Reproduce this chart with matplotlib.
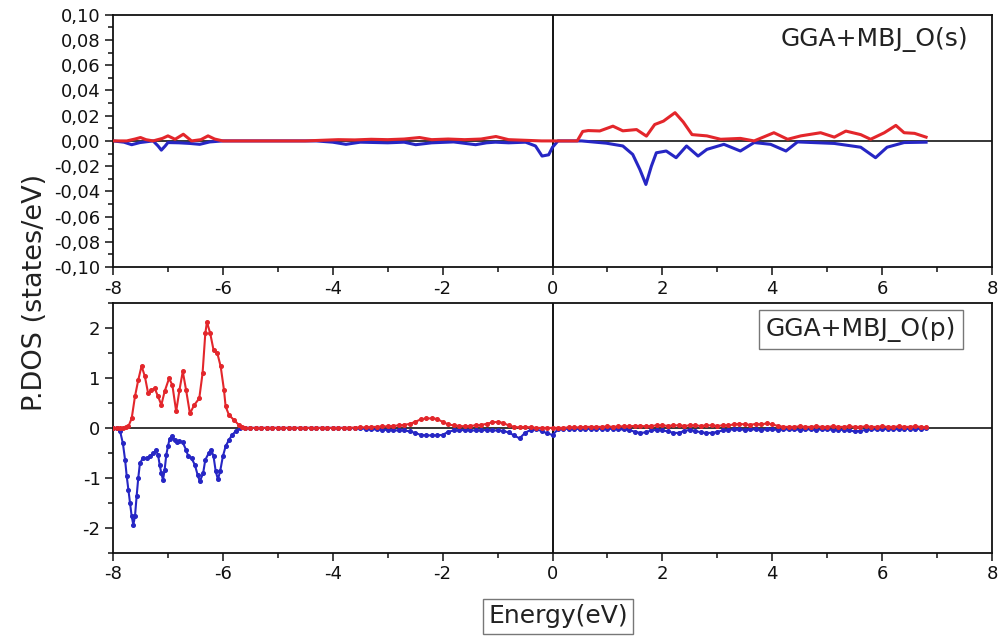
import matplotlib
matplotlib.use("Agg")
from matplotlib import pyplot as plt
from matplotlib.ticker import MultipleLocator, FuncFormatter

# O(s) partial DOS, spin up / spin down (states/eV)
E_s_up = [-8.0, -7.75, -7.6, -7.5, -7.4, -7.27, -7.1, -7.0, -6.87, -6.72,
          -6.57, -6.4, -6.27, -6.15, -6.0, -5.5, -5.0, -4.5, -4.2, -3.9,
          -3.6, -3.3, -3.0, -2.7, -2.42, -2.2, -1.9, -1.6, -1.3, -1.03,
          -0.8, -0.5, -0.2, 0.0, 0.25, 0.45, 0.55, 0.65, 0.86, 1.1,
          1.28, 1.53, 1.71, 1.86, 2.02, 2.23, 2.38, 2.54, 2.81, 3.06,
          3.42, 3.67, 4.03, 4.28, 4.52, 4.88, 5.13, 5.34, 5.61, 5.79,
          6.04, 6.25, 6.4, 6.59, 6.8]
s_up = [0.0, 0.0, 0.0015, 0.0027, 0.001, 0.0, 0.002, 0.004, 0.0013, 0.0053,
        0.0, 0.001, 0.004, 0.0015, 0.0, 0.0, 0.0, 0.0, 0.0005, 0.001,
        0.0008, 0.0013, 0.001, 0.0015, 0.0027, 0.001, 0.0015, 0.001, 0.0015, 0.0035,
        0.001, 0.0005, 0.0, 0.0, 0.0, 0.0, 0.0075, 0.0082, 0.0079, 0.0117,
        0.008, 0.009, 0.0038, 0.013, 0.0157, 0.0224, 0.015, 0.005, 0.004, 0.0013,
        0.002, 0.0, 0.0065, 0.0013, 0.004, 0.0065, 0.003, 0.0078, 0.005, 0.0013,
        0.0065, 0.0123, 0.0065, 0.006, 0.003]

E_s_dn = [-8.0, -7.8, -7.66, -7.51, -7.27, -7.18, -7.12, -7.05, -7.0, -6.8,
          -6.6, -6.42, -6.24, -6.0, -5.0, -4.3, -4.0, -3.76, -3.5, -3.0,
          -2.7, -2.49, -2.2, -1.8, -1.4, -1.2, -1.04, -0.8, -0.49, -0.31,
          -0.19, -0.07, 0.0, 0.1, 0.53, 0.98, 1.28, 1.46, 1.59, 1.70,
          1.80, 1.89, 2.07, 2.25, 2.44, 2.65, 2.81, 3.12, 3.42, 3.67,
          3.97, 4.25, 4.46, 5.13, 5.61, 5.88, 6.09, 6.4, 6.8]
s_dn = [0.0, -0.001, -0.003, -0.0013, 0.0, -0.004, -0.0073, -0.004, -0.0013, -0.0015,
        -0.002, -0.0027, -0.0008, 0.0, 0.0, 0.0, -0.001, -0.0027, -0.001, -0.0015,
        -0.001, -0.003, -0.0015, -0.0008, -0.003, -0.0015, -0.001, -0.0015, -0.001, -0.004,
        -0.012, -0.011, -0.005, 0.0, 0.0, -0.0018, -0.004, -0.0107, -0.0226, -0.0345,
        -0.02, -0.0094, -0.008, -0.0133, -0.004, -0.012, -0.0067, -0.0027, -0.008, -0.0013,
        -0.0027, -0.008, -0.0008, -0.002, -0.005, -0.0133, -0.005, -0.0013, -0.001]

# O(p) partial DOS: finely sampled O-2p band below -5.6 eV ...
E_p_up_head = [-8.0, -7.93, -7.87, -7.81, -7.76, -7.72, -7.66, -7.60, -7.54, -7.48,
               -7.42, -7.36, -7.30, -7.24, -7.18, -7.12, -7.06, -6.98, -6.92, -6.85,
               -6.79, -6.73, -6.67, -6.60, -6.52, -6.43, -6.37, -6.32, -6.29, -6.23,
               -6.17, -6.10, -6.04, -5.98, -5.95, -5.89, -5.80, -5.71, -5.65]
p_up_head = [0.0, 0.0, 0.0, 0.0, 0.01, 0.03, 0.19, 0.63, 0.96, 1.24,
             1.03, 0.69, 0.76, 0.79, 0.63, 0.46, 0.73, 0.99, 0.86, 0.33,
             0.76, 1.13, 0.76, 0.29, 0.46, 0.59, 1.09, 1.89, 2.12, 1.89,
             1.56, 1.49, 1.23, 0.76, 0.43, 0.26, 0.16, 0.06, 0.02]

E_p_dn_head = [-8.0, -7.93, -7.87, -7.82, -7.78, -7.75, -7.72, -7.69, -7.66, -7.63,
               -7.60, -7.57, -7.54, -7.51, -7.46, -7.39, -7.33, -7.27, -7.22, -7.18,
               -7.15, -7.12, -7.09, -7.06, -7.03, -7.0, -6.97, -6.92, -6.88, -6.84,
               -6.79, -6.73, -6.67, -6.63, -6.57, -6.51, -6.46, -6.42, -6.36, -6.32,
               -6.26, -6.21, -6.17, -6.13, -6.09, -6.05, -6.0, -5.95, -5.89, -5.83,
               -5.77, -5.68]
p_dn_head = [0.0, -0.01, -0.07, -0.31, -0.64, -0.97, -1.24, -1.51, -1.77, -1.94,
             -1.77, -1.37, -1.0, -0.71, -0.61, -0.61, -0.57, -0.51, -0.45, -0.54,
             -0.74, -0.91, -1.04, -0.84, -0.54, -0.37, -0.22, -0.17, -0.24, -0.29,
             -0.26, -0.29, -0.44, -0.57, -0.61, -0.74, -0.94, -1.07, -0.91, -0.64,
             -0.51, -0.44, -0.57, -0.87, -1.03, -0.87, -0.57, -0.37, -0.24, -0.14,
             -0.07, -0.01]

# ... and the rest of the window on a 0.1 eV grid
E_tail = [-5.6, -5.5, -5.4, -5.3, -5.2, -5.1, -5.0, -4.9, -4.8, -4.7,
          -4.6, -4.5, -4.4, -4.3, -4.2, -4.1, -4.0, -3.9, -3.8, -3.7,
          -3.6, -3.5, -3.4, -3.3, -3.2, -3.1, -3.0, -2.9, -2.8, -2.7,
          -2.6, -2.5, -2.4, -2.3, -2.2, -2.1, -2.0, -1.9, -1.8, -1.7,
          -1.6, -1.5, -1.4, -1.3, -1.2, -1.1, -1.0, -0.9, -0.8, -0.7,
          -0.6, -0.5, -0.4, -0.3, -0.2, -0.1, 0.0, 0.1, 0.2, 0.3,
          0.4, 0.5, 0.6, 0.7, 0.8, 0.9, 1.0, 1.1, 1.2, 1.3,
          1.4, 1.5, 1.6, 1.7, 1.8, 1.9, 2.0, 2.1, 2.2, 2.3,
          2.4, 2.5, 2.6, 2.7, 2.8, 2.9, 3.0, 3.1, 3.2, 3.3,
          3.4, 3.5, 3.6, 3.7, 3.8, 3.9, 4.0, 4.1, 4.2, 4.3,
          4.4, 4.5, 4.6, 4.7, 4.8, 4.9, 5.0, 5.1, 5.2, 5.3,
          5.4, 5.5, 5.6, 5.7, 5.8, 5.9, 6.0, 6.1, 6.2, 6.3,
          6.4, 6.5, 6.6, 6.7, 6.8]
p_up_tail = [0, 0, 0, 0, 0, 0, 0, 0, 0, 0,
             0, 0, 0, 0, 0, 0, 0, 0, 0, 0.005,
             0.005, 0.01, 0.01, 0.02, 0.02, 0.03, 0.03, 0.04, 0.05, 0.06,
             0.08, 0.12, 0.17, 0.19, 0.19, 0.18, 0.12, 0.07, 0.05, 0.04,
             0.03, 0.04, 0.05, 0.06, 0.08, 0.11, 0.12, 0.10, 0.05, 0.02,
             0.01, 0.02, 0.01, 0.0, 0.0, 0.0, 0.0, 0.0, 0.0, 0.01,
             0.01, 0.01, 0.02, 0.02, 0.02, 0.02, 0.03, 0.02, 0.03, 0.03,
             0.03, 0.04, 0.04, 0.03, 0.04, 0.05, 0.05, 0.04, 0.05, 0.05,
             0.04, 0.05, 0.05, 0.04, 0.05, 0.05, 0.04, 0.05, 0.05, 0.07,
             0.08, 0.07, 0.06, 0.08, 0.07, 0.09, 0.07, 0.04, 0.02, 0.02,
             0.02, 0.03, 0.02, 0.02, 0.03, 0.02, 0.02, 0.03, 0.02, 0.02,
             0.03, 0.02, 0.02, 0.03, 0.02, 0.02, 0.03, 0.02, 0.02, 0.03,
             0.02, 0.02, 0.03, 0.02, 0.01]
p_dn_tail = [0, 0, 0, 0, 0, 0, 0, 0, 0, 0,
             0, 0, 0, 0, 0, 0, 0, 0, 0, -0.005,
             -0.005, -0.01, -0.02, -0.03, -0.03, -0.04, -0.04, -0.05, -0.05, -0.05,
             -0.07, -0.10, -0.14, -0.15, -0.15, -0.15, -0.14, -0.08, -0.05, -0.05,
             -0.04, -0.05, -0.05, -0.05, -0.04, -0.05, -0.05, -0.06, -0.09, -0.15,
             -0.21, -0.10, -0.04, -0.03, -0.06, -0.11, -0.14, -0.03, -0.02, -0.02,
             -0.02, -0.02, -0.02, -0.02, -0.02, -0.02, -0.02, -0.02, -0.03, -0.03,
             -0.04, -0.08, -0.10, -0.09, -0.05, -0.04, -0.05, -0.07, -0.10, -0.10,
             -0.06, -0.04, -0.06, -0.09, -0.10, -0.10, -0.08, -0.05, -0.04, -0.03,
             -0.03, -0.04, -0.03, -0.03, -0.04, -0.03, -0.03, -0.04, -0.03, -0.03,
             -0.03, -0.04, -0.03, -0.03, -0.04, -0.03, -0.03, -0.04, -0.04, -0.04,
             -0.05, -0.07, -0.06, -0.04, -0.03, -0.03, -0.03, -0.02, -0.02, -0.03,
             -0.02, -0.02, -0.02, -0.02, -0.01]

RED = '#e3262b'
BLUE = '#2626c4'

plt.rcParams['font.family'] = ['DejaVu Sans']
plt.rcParams['text.color'] = '#222222'
plt.rcParams['axes.unicode_minus'] = False


def style_axes(ax):
    ax.set_xlim(-8, 8)
    ax.xaxis.set_major_locator(MultipleLocator(2))
    ax.xaxis.set_minor_locator(MultipleLocator(1))
    ax.tick_params(which='both', direction='out', top=False, right=False,
                   labelsize=13, width=1.1, colors='#111111')
    ax.tick_params(which='major', length=6, pad=3)
    ax.tick_params(which='minor', length=3.5)
    for sp in ax.spines.values():
        sp.set_linewidth(1.3)
        sp.set_color('#111111')
    ax.axhline(0, color='black', lw=1.1, zorder=1)
    ax.axvline(0, color='black', lw=1.3, zorder=1)


fig = plt.figure(figsize=(10, 6.42), dpi=100)
ax1 = fig.add_axes([0.113, 0.584, 0.879, 0.393])
ax2 = fig.add_axes([0.113, 0.139, 0.879, 0.389])

# O(s) panel
style_axes(ax1)
ax1.plot(E_s_dn, s_dn, color=BLUE, lw=2.2, zorder=2)
ax1.plot(E_s_up, s_up, color=RED, lw=2.2, zorder=3)
ax1.set_ylim(-0.10, 0.10)
ax1.yaxis.set_major_locator(MultipleLocator(0.02))
ax1.yaxis.set_minor_locator(MultipleLocator(0.01))
ax1.yaxis.set_major_formatter(FuncFormatter(lambda v, _: f'{v:.2f}'.replace('.', ',').replace('-0,00', '0,00')))
ax1.text(0.866, 0.90, 'GGA+MBJ_O(s)', transform=ax1.transAxes,
         ha='center', va='center', fontsize=18)

# O(p) panel
style_axes(ax2)
ax2.plot(E_p_dn_head + E_tail, p_dn_head + p_dn_tail, color=BLUE, lw=1.5,
         marker='o', ms=2.6, zorder=2)
ax2.plot(E_p_up_head + E_tail, p_up_head + p_up_tail, color=RED, lw=1.5,
         marker='o', ms=2.6, zorder=3)
ax2.set_ylim(-2.5, 2.5)
ax2.yaxis.set_major_locator(MultipleLocator(1))
ax2.yaxis.set_minor_locator(MultipleLocator(0.5))
ax2.text(0.851, 0.892, 'GGA+MBJ_O(p)', transform=ax2.transAxes,
         ha='center', va='center', fontsize=18,
         bbox=dict(boxstyle='square,pad=0.28', fc='white', ec='#777777', lw=1.0))

fig.text(0.035, 0.545, 'P.DOS (states/eV)', rotation=90, ha='center', va='center',
         fontsize=19.5)
fig.text(0.558, 0.040, 'Energy(eV)', ha='center', va='center', fontsize=18,
         bbox=dict(boxstyle='square,pad=0.22', fc='white', ec='#777777', lw=1.0))

fig.savefig('out.png', dpi=100)
